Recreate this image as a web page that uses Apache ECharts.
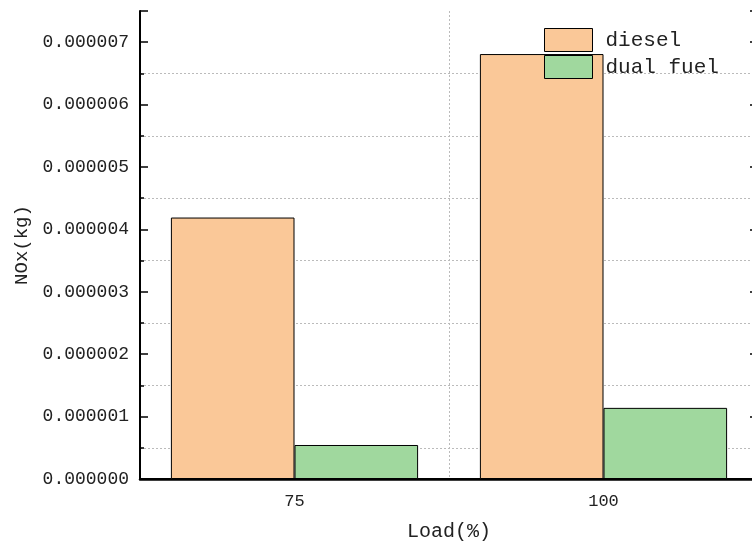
<!DOCTYPE html>
<html><head><meta charset="utf-8">
<script src="https://cdn.jsdelivr.net/npm/echarts@6/dist/echarts.min.js"></script>
<style>html,body{margin:0;padding:0;background:#fff}#c{width:752px;height:545px}</style>
</head><body><div id="c"></div>
<script>
const categories = ['75', '100'];
const dieselValues = [4.19e-6, 6.81e-6];
const dualFuelValues = [0.545e-6, 1.14e-6];
const seriesNames = ['diesel', 'dual fuel'];
const yMin = 0, yMax = 7.5e-6, yInterval = 1e-6;

const FONT = '"Liberation Mono", "DejaVu Sans Mono", monospace';
const chart = echarts.init(document.getElementById('c'));
const fmt = v => v.toFixed(6);
const yCommon = {
  type: 'value', min: yMin, max: yMax, interval: yInterval,
  axisLine: { show: true, lineStyle: { color: '#000', width: 2 } },
  axisTick: { show: true, inside: true, length: 8, lineStyle: { color: '#000', width: 1.5 } },
  minorTick: { show: true, splitNumber: 2, length: 4, lineStyle: { color: '#000', width: 1.5 } },
  splitLine: { show: false },
  minorSplitLine: { show: false }
};
chart.setOption({
  animation: false,
  textStyle: { fontFamily: FONT },
  grid: { left: 140, top: 11, width: 618, height: 468, containLabel: false, outerBoundsMode: 'none' },
  legend: {
    orient: 'vertical', left: 544, top: 28, padding: 0, itemWidth: 48, itemHeight: 23, itemGap: 3,
    icon: 'rect',
    itemStyle: { borderColor: '#000', borderWidth: 1 },
    textStyle: { fontFamily: FONT, fontSize: 21, color: '#222', padding: [0, 0, 0, 8], lineHeight: 23 },
    data: seriesNames
  },
  xAxis: [{
    type: 'category', data: categories, boundaryGap: true, position: 'bottom',
    name: 'Load(%)', nameLocation: 'middle', nameGap: 43,
    nameTextStyle: { fontFamily: FONT, fontSize: 20, color: '#222' },
    axisLine: { lineStyle: { color: '#000', width: 2.5 } },
    axisTick: { inside: true, length: 5, lineStyle: { color: '#000' } },
    axisLabel: { fontFamily: FONT, fontSize: 17, color: '#222', margin: 14 },
    splitLine: { show: true, lineStyle: { color: '#bbb', type: [2, 2], width: 1 } }
  }, {
    type: 'category', data: categories, boundaryGap: true, position: 'top',
    axisLine: { lineStyle: { color: '#000', width: 2 } },
    axisTick: { inside: true, length: 6, alignWithLabel: true, lineStyle: { color: '#000', width: 1.5 } },
    axisLabel: { show: false }
  }],
  yAxis: [Object.assign({}, yCommon, {
    position: 'left',
    name: 'NOx(kg)', nameLocation: 'middle', nameGap: 102,
    nameTextStyle: { fontFamily: FONT, fontSize: 19, color: '#222' },
    axisLabel: { fontFamily: FONT, fontSize: 18, color: '#222', margin: 11, formatter: fmt, showMaxLabel: false },
    minorSplitLine: { show: true, lineStyle: { color: '#bbb', type: [2, 2], width: 1 } }
  }), Object.assign({}, yCommon, {
    position: 'right',
    axisLabel: { show: false }
  })],
  series: [{
    name: seriesNames[0], type: 'bar', data: dieselValues, barWidth: '40%', barGap: '0%',
    itemStyle: { color: '#FAC898', borderColor: '#000', borderWidth: 1 }
  }, {
    name: seriesNames[1], type: 'bar', data: dualFuelValues, barWidth: '40%', barGap: '0%',
    itemStyle: { color: '#A0D89E', borderColor: '#000', borderWidth: 1 }
  }]
});
</script></body></html>
